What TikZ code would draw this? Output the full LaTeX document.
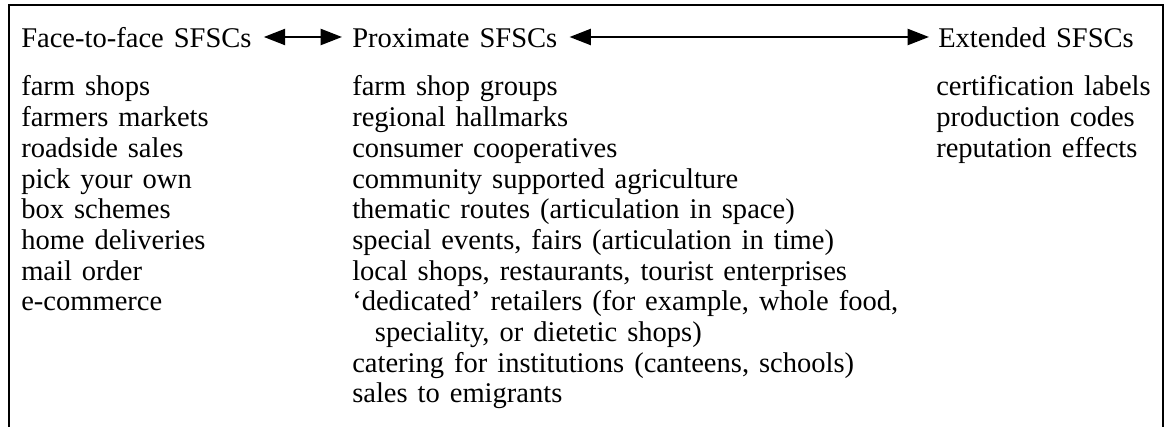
\documentclass[tikz,border=0pt]{standalone}
\usepackage{fontspec}
\setmainfont[WordSpace=1.4]{Liberation Serif}
\usetikzlibrary{arrows.meta}

\tikzset{
  head/.style={anchor=base west, inner sep=0pt, font=\fontsize{21.4}{23}\selectfont},
  item/.style={anchor=base west, inner sep=0pt, font=\fontsize{21.4}{23}\selectfont},
  link/.style={{Triangle[length=16pt,width=12pt]}-{Triangle[length=16pt,width=12pt]}, line width=1.7pt},
}

\begin{document}
\begin{tikzpicture}[x=0.75pt, y=-0.75pt]
  \useasboundingbox (0,0) rectangle (1165,427);
  % frame, left open at the bottom
  \draw[line width=1.8pt] (9,427) -- (9,5) -- (1163,5) -- (1163,427);

  % column heads and the links between them
  \node[head] (face) at (21,48) {Face-to-face SFSCs};
  \node[head] (prox) at (352,48) {Proximate SFSCs};
  \node[head] (ext) at (938,48) {Extended SFSCs};
  \draw[link] ([xshift=9pt,yshift=8.25pt]face.base east) -- ([xshift=-7.5pt,yshift=8.25pt]prox.base west);
  \draw[link] ([xshift=9pt,yshift=8.25pt]prox.base east) -- ([xshift=-6.75pt,yshift=8.25pt]ext.base west);

  % face-to-face list
  \foreach \txt [count=\i] in {farm shops, farmers markets, roadside sales, pick your own,
      box schemes, home deliveries, mail order, e-commerce}
    \node[item] (face-\i) at (21,{96+30.7*(\i-1)}) {\txt};

  % proximate list
  \foreach \txt [count=\i] in {farm shop groups, regional hallmarks, consumer cooperatives,
      community supported agriculture, thematic routes (articulation in space),
      {special events, fairs (articulation in time)},
      {local shops, restaurants, tourist enterprises},
      {`dedicated' retailers (for example, whole food,},
      {\hspace*{17pt}speciality, or dietetic shops)},
      {catering for institutions (canteens, schools)}, sales to emigrants}
    \node[item] (prox-\i) at (352,{96+30.7*(\i-1)}) {\txt};

  % extended list
  \foreach \txt [count=\i] in {certification labels, production codes, reputation effects}
    \node[item] (ext-\i) at (936,{96+30.7*(\i-1)}) {\txt};
\end{tikzpicture}
\end{document}
